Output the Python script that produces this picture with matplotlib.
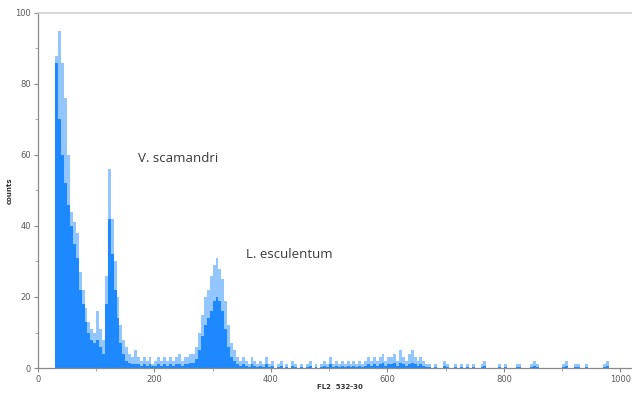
import numpy as np
import matplotlib.pyplot as plt
from matplotlib.ticker import MultipleLocator

# histogram, 5-channel bins starting at channel 30
bin_start = 30
bin_width = 5
# light blue envelope (highest spikes in each bin)
counts_max = [
    88, 95, 86, 76, 60, 44, 41, 38, 27, 22, 17, 13, 11, 10, 16, 11, 8, 26, 56, 42, 30, 20, 12, 8, 6,   # 30-150
    4, 3, 5, 3, 2, 3, 2, 3, 1, 2, 3, 2, 3, 2, 3, 2, 3, 4, 2, 3, 3, 4,                                # 155-260
    4, 6, 10, 15, 20, 22, 26, 29, 31, 28, 25, 19, 12, 7, 5,                                          # 265-335
    3, 2, 3, 2, 1, 3, 2, 1, 2, 1, 3, 1, 2, 0, 1, 2, 0, 1, 0, 2, 1,                                   # 340-440
    0, 1, 0, 1, 2, 0, 1, 0, 1, 2, 1, 3, 1, 2, 1, 2, 1, 2, 1, 2, 1,                                   # 445-545
    2, 1, 2, 3, 2, 3, 2, 3, 4, 2, 3, 3, 4, 2, 5, 3, 2, 4, 5, 3, 2, 3, 2, 1,                          # 550-665
    1, 0, 1, 0, 0, 2, 1, 0, 0, 1, 0, 1, 0, 1, 0, 1, 0, 0, 1, 2,                                      # 670-765
    0, 0, 0, 0, 1, 0, 1, 0, 0, 0, 1, 1, 0, 0, 0, 1, 2, 1, 0, 0,                                      # 770-865
    0, 0, 0, 0, 0, 0, 1, 2, 0, 0, 1, 1, 0, 0, 1, 0, 0, 0, 0, 0,                                      # 870-965
    1, 2, 0, 0, 0, 0, 0, 0, 0, 0,                                                                    # 970-1015
]
# solid blue body (typical level in each bin)
counts_body = [
    86, 70, 60, 52, 46, 40, 35, 31, 22, 18, 13, 10, 8, 7, 8, 6, 4, 18, 42, 32, 22, 14, 7, 4, 2,
    1.5, 1, 1, 1, 0.5, 1, 0.5, 1, 0.5, 0.5, 1, 0.5, 1, 0.5, 1, 0.5, 1, 1, 0.5, 1, 1, 1.5,
    1.5, 2.5, 5, 9, 12, 14, 16, 19, 20, 19, 16, 11, 6, 3, 2,
    1, 0.5, 1, 0.5, 0.3, 1, 0.5, 0.3, 0.5, 0.3, 1, 0.3, 0.5, 0, 0.3, 0.5, 0, 0.3, 0, 0.5, 0.3,
    0, 0.3, 0, 0.3, 0.5, 0, 0.3, 0, 0.3, 0.5, 0.3, 1, 0.3, 0.5, 0.3, 0.5, 0.3, 0.5, 0.3, 0.5, 0.3,
    0.5, 0.3, 0.5, 1, 0.5, 1, 0.5, 1, 1.5, 0.5, 1, 1, 1.5, 0.5, 1.5, 1, 0.5, 1, 1.5, 1, 0.5, 1, 0.5, 0.3,
    0.3, 0, 0.3, 0, 0, 0.5, 0.3, 0, 0, 0.3, 0, 0.3, 0, 0.3, 0, 0.3, 0, 0, 0.3, 0.5,
    0, 0, 0, 0, 0.3, 0, 0.3, 0, 0, 0, 0.3, 0.3, 0, 0, 0, 0.3, 0.5, 0.3, 0, 0,
    0, 0, 0, 0, 0, 0, 0.3, 0.5, 0, 0, 0.3, 0.3, 0, 0, 0.3, 0, 0, 0, 0, 0,
    0.3, 0.5, 0, 0, 0, 0, 0, 0, 0, 0,
]
labels = ['V. scamandri', 'L. esculentum']
label_pos = [(172, 59), (357, 32)]

edges = bin_start + bin_width * np.arange(len(counts_max))

fig = plt.figure(figsize=(6.32, 3.93), dpi=100)
ax = fig.add_axes([0.060, 0.0636, 0.94, 0.9034])

ax.bar(edges, counts_max, width=bin_width, align='edge', color='#93c6ff', linewidth=0)
ax.bar(edges, counts_body[:len(edges)], width=bin_width, align='edge', color='#1e88ff', linewidth=0)

ax.set_xlim(0, 1020)
ax.set_ylim(0, 100)
ax.xaxis.set_major_locator(MultipleLocator(200))
ax.xaxis.set_minor_locator(MultipleLocator(100))
ax.yaxis.set_major_locator(MultipleLocator(20))
ax.yaxis.set_minor_locator(MultipleLocator(10))
ax.tick_params(which='major', length=3, width=0.8, color='#888888',
               labelsize=6, labelcolor='#5a5a5a', pad=2)
ax.tick_params(which='minor', length=2, width=0.6, color='#999999')

for side in ['left', 'bottom']:
    ax.spines[side].set_color('#8a8a8a')
    ax.spines[side].set_linewidth(0.9)
ax.spines['top'].set_color('#cfcfcf')
ax.spines['top'].set_linewidth(1.2)
ax.spines['right'].set_visible(False)

ax.set_xlabel('FL2  532-30', fontsize=5, fontweight='bold', color='#333333')
ax.set_ylabel('counts', fontsize=5, fontweight='bold', color='#333333')
ax.xaxis.set_label_coords(0.508, -0.046)
ax.yaxis.set_label_coords(-0.043, 0.5)

for txt, (x, y) in zip(labels, label_pos):
    ax.text(x, y, txt, fontsize=9.5, family='Open Sans', color='#3a3a3a', va='center')

fig.savefig('out.png', dpi=100)
